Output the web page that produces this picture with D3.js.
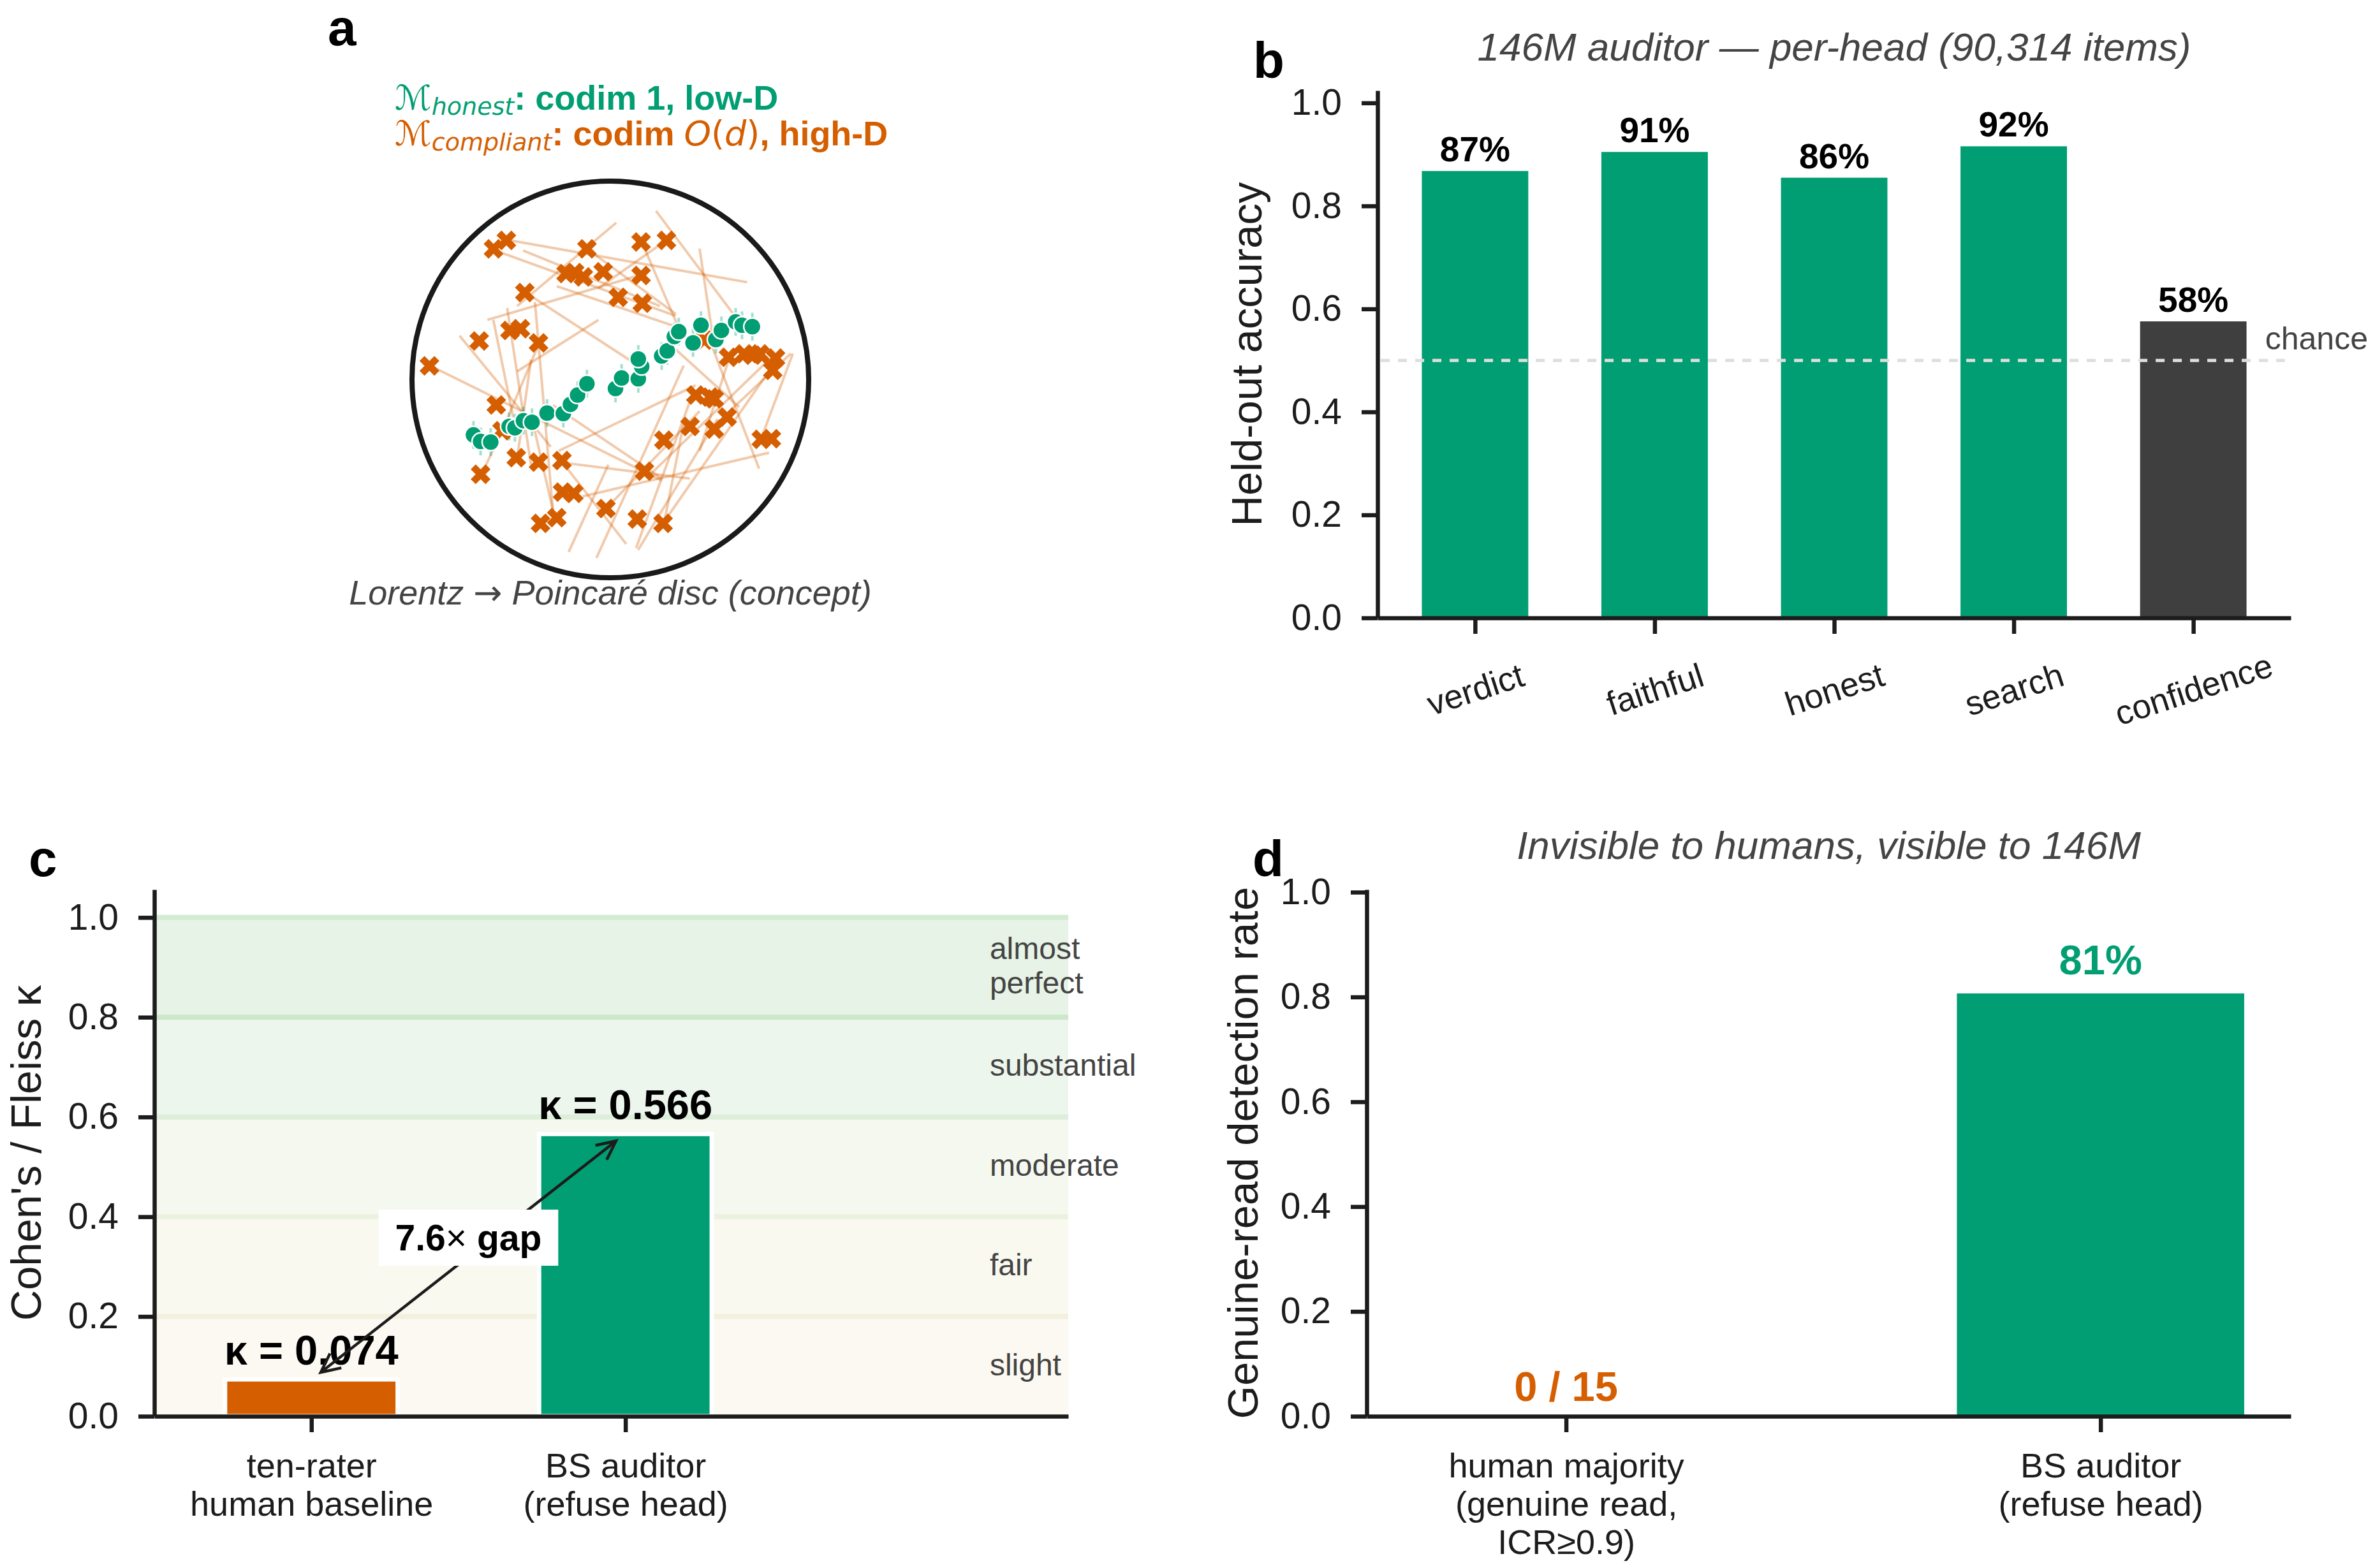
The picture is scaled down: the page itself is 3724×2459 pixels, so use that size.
<!DOCTYPE html>
<html>
<head>
<meta charset="utf-8">
<script src="https://cdn.jsdelivr.net/npm/d3@7"></script>
<style>
body { margin: 0; background: #fff; }
text { font-family: "Liberation Sans", Arial, sans-serif; }
</style>
</head>
<body>
<div id="fig"></div>
<script>
const green = "#029e73", orange = "#d55e00", dark = "#3f3f3f", ink = "#1c1c1c", grey = "#444444";

// ---- panel a : points on the disc (unit-disc coords) ----
const honestPts = [
  [-0.690,-0.280],[-0.654,-0.313],[-0.603,-0.316],[-0.510,-0.237],[-0.481,-0.244],
  [-0.438,-0.208],[-0.395,-0.216],[-0.319,-0.170],[-0.237,-0.172],[-0.201,-0.126],
  [-0.165,-0.079],[-0.118,-0.022],[0.026,-0.046],[0.057,0.007],[0.141,0.003],
  [0.158,0.065],[0.141,0.103],[0.259,0.118],[0.287,0.144],[0.323,0.216],
  [0.345,0.241],[0.417,0.184],[0.457,0.273],[0.532,0.201],[0.560,0.247],
  [0.632,0.290],[0.664,0.273],[0.716,0.266]
];
const compliantPts = [
  [-0.589,0.658],[-0.524,0.701],[-0.118,0.658],[0.155,0.693],[0.283,0.701],
  [-0.223,0.534],[-0.180,0.539],[-0.136,0.517],[-0.036,0.543],[0.155,0.524],
  [-0.431,0.438],[0.040,0.414],[0.161,0.384],[-0.661,0.194],[-0.506,0.247],
  [-0.453,0.256],[-0.362,0.184],[-0.912,0.068],[-0.575,-0.129],[-0.546,-0.259],
  [0.474,0.198],[0.596,0.112],[0.675,0.129],[0.718,0.122],[0.754,0.129],
  [0.833,0.108],[0.819,0.046],[0.431,-0.079],[0.503,-0.089],[0.524,-0.098],
  [0.589,-0.190],[0.402,-0.237],[0.524,-0.251],[0.270,-0.306],[0.761,-0.302],
  [0.812,-0.299],[-0.474,-0.395],[-0.362,-0.417],[-0.244,-0.409],[-0.654,-0.478],
  [0.172,-0.463],[-0.241,-0.568],[-0.184,-0.575],[-0.022,-0.651],[0.136,-0.704],
  [0.266,-0.726],[-0.352,-0.726],[-0.270,-0.697]
];
const compliantSegs = [
  [-0.50,0.70,0.69,0.49],[-0.58,0.65,0.33,0.32],[-0.44,0.65,0.25,0.37],[0.03,0.79,-0.47,0.37],
  [0.23,0.85,0.62,0.33],[0.45,0.66,0.52,0.19],[-0.76,0.22,-0.30,-0.34],[-0.91,0.07,0.26,-0.51],
  [-0.62,0.30,0.13,0.52],[-0.27,0.47,0.32,0.27],[-0.59,0.30,-0.49,-0.19],[-0.52,0.36,-0.40,-0.43],
  [-0.40,0.10,-0.47,-0.40],[-0.38,0.39,-0.29,-0.66],[-0.21,-0.87,-0.01,-0.43],[-0.07,-0.90,0.37,0.07],
  [0.08,-0.83,-0.24,-0.42],[0.13,-0.85,0.42,-0.06],[0.14,-0.86,0.54,-0.20],[0.75,-0.45,0.50,0.20],
  [0.91,0.13,0.57,-0.19],[0.80,-0.37,-0.14,-0.59],[0.82,0.07,0.29,-0.69],[0.19,-0.49,0.79,0.09],
  [-0.47,0.04,-0.06,0.30],[-0.26,-0.36,0.43,-0.03],[-0.29,-0.13,0.26,-0.50],[-0.65,-0.48,-0.55,-0.27],
  [0.27,-0.73,0.37,-0.22],[-0.24,-0.42,0.40,-0.50],[-0.28,-0.70,-0.39,-0.22],[-0.02,-0.65,0.45,-0.16],
  [0.65,-0.14,0.32,0.16],[0.16,0.69,0.34,0.27],[0.28,0.70,-0.06,0.46],[-0.43,0.44,0.14,0.07],
  [-0.12,0.66,0.33,0.33],[0.60,0.11,0.45,-0.36],[-0.36,0.18,-0.55,-0.27],[0.76,-0.30,0.92,0.13]
];

// ---- panel b ----
const heads = ["verdict", "faithful", "honest", "search", "confidence"];
const headAcc = [0.869, 0.906, 0.856, 0.917, 0.577];
const headColor = [green, green, green, green, dark];
const chance = 0.5;

// ---- panel c ----
const raters = [["ten-rater", "human baseline"], ["BS auditor", "(refuse head)"]];
const kappa = [0.074, 0.566];
const kappaColor = [orange, green];
const bandEdges = [0, 0.2, 0.4, 0.6, 0.8, 1.0];
const bandNames = [["slight"], ["fair"], ["moderate"], ["substantial"], ["almost", "perfect"]];
const bandFill = ["#fbf9f1", "#f9f9ef", "#f4f8ef", "#edf6ec", "#e7f3e6"];
const bandLine = ["#f3f0e0", "#ecf2e0", "#ddeeda", "#cde7cb", "#d4ebd3"];

// ---- panel d ----
const detectors = [["human majority", "(genuine read,", "ICR\u22650.9)"], ["BS auditor", "(refuse head)"]];
const detectRate = [0, 0.808];
const humanHits = 0, humanItems = 15;

const yTicks = [0, 0.2, 0.4, 0.6, 0.8, 1.0];

const svg = d3.select("#fig").append("svg")
  .attr("width", 3724).attr("height", 2459)
  .style("background", "#fff");

function styleAxis(ax) {
  ax.attr("font-family", '"Liberation Sans", Arial, sans-serif').attr("font-size", 57);
  ax.select(".domain").attr("stroke", ink).attr("stroke-width", 6.5);
  ax.selectAll(".tick line").attr("stroke", ink).attr("stroke-width", 6.5);
  ax.selectAll(".tick text").attr("fill", ink);
}
function leftAxis(g, y, left) {
  const ax = g.append("g").attr("transform", `translate(${left},0)`)
    .call(d3.axisLeft(y).tickValues(yTicks).tickFormat(d3.format(".1f"))
      .tickSize(25).tickSizeOuter(0).tickPadding(31));
  styleAxis(ax);
  return ax;
}
function bottomAxis(g, x, y0, n) {
  const ax = g.append("g").attr("transform", `translate(0,${y0})`)
    .call(d3.axisBottom(x).tickValues(d3.range(n)).tickFormat("")
      .tickSize(25).tickSizeOuter(0));
  styleAxis(ax);
  return ax;
}
function multiLabels(ax, lines) {
  ax.selectAll(".tick text").remove();
  ax.selectAll(".tick").append("text")
    .attr("text-anchor", "middle").attr("fill", ink).attr("font-size", 54)
    .selectAll("tspan").data(i => lines[i]).join("tspan")
    .attr("x", 0).attr("y", (d, j) => 96 + j * 60).text(d => d);
}
function yLabel(g, txt, x, y) {
  g.append("text").attr("transform", `translate(${x},${y}) rotate(-90)`)
    .attr("text-anchor", "middle").attr("font-size", 67).attr("fill", ink).text(txt);
}
function panelLetter(txt, x, y) {
  svg.append("text").attr("x", x).attr("y", y).attr("font-size", 80)
    .attr("font-weight", "bold").attr("fill", "#000").text(txt);
}

// ================= panel a =================
const gA = svg.append("g");
const xA = d3.scaleLinear().domain([-1, 1]).range([957 - 311, 957 + 311]);
const yA = d3.scaleLinear().domain([-1, 1]).range([595 + 311, 595 - 311]);

const l1 = gA.append("text").attr("x", 619).attr("y", 172).attr("fill", green).attr("font-size", 54);
l1.append("tspan").attr("font-family", "DejaVu Sans").text("\u2133");
l1.append("tspan").attr("font-family", "DejaVu Sans").attr("font-style", "italic")
  .attr("font-size", 38).attr("dy", 8).text("honest");
l1.append("tspan").attr("dy", -8).attr("font-weight", "bold").text(": codim 1, low-D");

const l2 = gA.append("text").attr("x", 619).attr("y", 228).attr("fill", orange).attr("font-size", 54);
l2.append("tspan").attr("font-family", "DejaVu Sans").text("\u2133");
l2.append("tspan").attr("font-family", "DejaVu Sans").attr("font-style", "italic")
  .attr("font-size", 38).attr("dy", 8).text("compliant");
l2.append("tspan").attr("dy", -8).attr("font-weight", "bold").text(": codim ");
l2.append("tspan").attr("font-family", "DejaVu Sans").attr("font-style", "italic").text("O");
l2.append("tspan").attr("font-family", "DejaVu Sans").text("(");
l2.append("tspan").attr("font-family", "DejaVu Sans").attr("font-style", "italic").text("d");
l2.append("tspan").attr("font-family", "DejaVu Sans").text(")");
l2.append("tspan").attr("font-weight", "bold").text(", high-D");

gA.append("g").selectAll("line").data(compliantSegs).join("line")
  .attr("x1", d => xA(d[0])).attr("y1", d => yA(d[1]))
  .attr("x2", d => xA(d[2])).attr("y2", d => yA(d[3]))
  .attr("stroke", orange).attr("stroke-opacity", 0.33).attr("stroke-width", 4);

gA.append("g").selectAll("line").data(honestPts).join("line")
  .attr("x1", d => xA(d[0])).attr("x2", d => xA(d[0]))
  .attr("y1", d => yA(d[1] - 0.07)).attr("y2", d => yA(d[1] + 0.07))
  .attr("stroke", green).attr("stroke-opacity", 0.35).attr("stroke-width", 4);

const xMark = d3.symbol().type(d3.symbolCross).size(600);
gA.append("g").selectAll("path").data(compliantPts).join("path")
  .attr("d", xMark)
  .attr("transform", d => `translate(${xA(d[0])},${yA(d[1])}) rotate(45)`)
  .attr("fill", orange);

gA.append("g").selectAll("circle").data(honestPts).join("circle")
  .attr("cx", d => xA(d[0])).attr("cy", d => yA(d[1])).attr("r", 13.5)
  .attr("fill", green).attr("stroke", "#fff").attr("stroke-width", 2.5);

gA.append("circle").attr("cx", xA(0)).attr("cy", yA(0)).attr("r", xA(1) - xA(0))
  .attr("fill", "none").attr("stroke", "#1a1a1a").attr("stroke-width", 8);

const cap = gA.append("text").attr("x", xA(0)).attr("y", 948).attr("text-anchor", "middle")
  .attr("font-size", 54).attr("font-style", "italic").attr("fill", grey);
cap.append("tspan").text("Lorentz ");
cap.append("tspan").attr("font-family", "DejaVu Sans").attr("font-style", "normal").text("\u2192");
cap.append("tspan").text(" Poincar\u00e9 disc (concept)");

// ================= panel b =================
const gB = svg.append("g");
const xB = d3.scaleLinear().domain([-0.543, 4.543]).range([2160, 3592]);
const yB = d3.scaleLinear().domain([0, 1.024]).range([969, 142]);
const bwB = xB(0.6) - xB(0);

gB.selectAll("rect").data(headAcc).join("rect")
  .attr("x", (d, i) => xB(i) - bwB / 2).attr("width", bwB)
  .attr("y", d => yB(d)).attr("height", d => yB(0) - yB(d))
  .attr("fill", (d, i) => headColor[i]).attr("stroke", "#fff").attr("stroke-width", 2);

gB.append("line")
  .attr("x1", xB(-0.525)).attr("x2", xB(4.51))
  .attr("y1", yB(chance)).attr("y2", yB(chance))
  .attr("stroke", "#dedede").attr("stroke-width", 5).attr("stroke-dasharray", "14,13");
gB.append("text").attr("x", xB(4.40)).attr("y", yB(chance) - 17)
  .attr("font-size", 50).attr("fill", grey).text("chance");

gB.selectAll(".vlab").data(headAcc).join("text").attr("class", "vlab")
  .attr("x", (d, i) => xB(i)).attr("y", d => yB(d) - 14)
  .attr("text-anchor", "middle").attr("font-size", 55).attr("font-weight", "bold")
  .attr("fill", "#000").text(d => d3.format(".0%")(d));

leftAxis(gB, yB, 2160);
const axB = bottomAxis(gB, xB, 969, heads.length);
axB.selectAll(".tick text").remove();
axB.selectAll(".tick").append("text")
  .attr("transform", "translate(0,112) rotate(-18)")
  .attr("text-anchor", "middle").attr("dominant-baseline", "central")
  .attr("font-size", 53).attr("fill", ink).text(i => heads[i]);

yLabel(gB, "Held-out accuracy", 1978, (142 + 969) / 2);
gB.append("text").attr("x", (2160 + 3592) / 2).attr("y", 95).attr("text-anchor", "middle")
  .attr("font-size", 62).attr("font-style", "italic").attr("fill", grey)
  .text("146M auditor \u2014 per-head (90,314 items)");

// ================= panel c =================
const gC = svg.append("g");
const xC = d3.scaleLinear().domain([-0.5, 2.41]).range([242, 1675]);
const yC = d3.scaleLinear().domain([0, 1.056]).range([2221, 1395]);
const bwC = xC(0.55) - xC(0);

const bands = d3.range(bandNames.length);
gC.selectAll(".band").data(bands).join("rect").attr("class", "band")
  .attr("x", xC(-0.5)).attr("width", xC(2.41) - xC(-0.5))
  .attr("y", i => yC(bandEdges[i + 1])).attr("height", i => yC(bandEdges[i]) - yC(bandEdges[i + 1]))
  .attr("fill", i => bandFill[i]);
gC.selectAll(".bline").data(bands).join("line").attr("class", "bline")
  .attr("x1", xC(-0.5)).attr("x2", xC(2.41))
  .attr("y1", i => yC(bandEdges[i + 1])).attr("y2", i => yC(bandEdges[i + 1]))
  .attr("stroke", i => bandLine[i]).attr("stroke-width", 8);
gC.selectAll(".bname").data(bands).join("text").attr("class", "bname")
  .attr("font-size", 48).attr("fill", grey)
  .each(function (i) {
    const yc = yC((bandEdges[i] + bandEdges[i + 1]) / 2);
    const n = bandNames[i].length;
    d3.select(this).selectAll("tspan").data(bandNames[i]).join("tspan")
      .attr("x", xC(2.16)).attr("y", (d, j) => yc + 14 + (j - (n - 1) / 2) * 54).text(d => d);
  });

gC.selectAll(".bar").data(kappa).join("rect").attr("class", "bar")
  .attr("x", (d, i) => xC(i) - bwC / 2).attr("width", bwC)
  .attr("y", d => yC(d)).attr("height", d => yC(0) - yC(d))
  .attr("fill", (d, i) => kappaColor[i]).attr("stroke", "#fff").attr("stroke-width", 7);

gC.selectAll(".klab").data(kappa).join("text").attr("class", "klab")
  .attr("x", (d, i) => xC(i)).attr("y", d => yC(d) - 23)
  .attr("text-anchor", "middle").attr("font-size", 65).attr("font-weight", "bold")
  .attr("fill", "#000").text(d => "\u03ba = " + d3.format(".3f")(d));

// double-headed arrow between the two kappas
const p0 = [xC(0.03), yC(0.088)], p1 = [xC(0.97), yC(0.552)];
const ang = Math.atan2(p1[1] - p0[1], p1[0] - p0[0]);
function head(p, a) {
  const L = 33, s = 0.45;
  return `M${p[0] - L * Math.cos(a - s)},${p[1] - L * Math.sin(a - s)}L${p[0]},${p[1]}` +
         `L${p[0] - L * Math.cos(a + s)},${p[1] - L * Math.sin(a + s)}`;
}
gC.append("path")
  .attr("d", `M${p0[0]},${p0[1]}L${p1[0]},${p1[1]}` + head(p1, ang) + head(p0, ang + Math.PI))
  .attr("fill", "none").attr("stroke", ink).attr("stroke-width", 4.5)
  .attr("stroke-linejoin", "miter");

const gapG = gC.append("g");
const gapT = gapG.append("text").attr("x", xC(0.5)).attr("y", yC(0.358))
  .attr("text-anchor", "middle").attr("dominant-baseline", "central")
  .attr("font-size", 57).attr("font-weight", "bold").attr("fill", "#000");
gapT.append("tspan").text(d3.format(".1f")(kappa[1] / kappa[0]));
gapT.append("tspan").attr("font-weight", "normal").text("\u00d7");
gapT.append("tspan").text(" gap");
const bb = gapT.node().getBBox();
gapG.insert("rect", "text").attr("x", bb.x - 26).attr("y", bb.y - 12)
  .attr("width", bb.width + 52).attr("height", bb.height + 24).attr("fill", "#fff");

leftAxis(gC, yC, 242);
const axC = bottomAxis(gC, xC, 2221, raters.length);
multiLabels(axC, raters);
yLabel(gC, "Cohen's / Fleiss \u03ba", 64, (1395 + 2221) / 2);

// ================= panel d =================
const gD = svg.append("g");
const xD = d3.scaleLinear().domain([-0.373, 1.356]).range([2143, 3592]);
const yD = d3.scaleLinear().domain([0, 1.005]).range([2221, 1395]);
const bwD = xD(0.54) - xD(0);

gD.selectAll("rect").data(detectRate).join("rect")
  .attr("x", (d, i) => xD(i) - bwD / 2).attr("width", bwD)
  .attr("y", d => yD(d)).attr("height", d => yD(0) - yD(d))
  .attr("fill", (d, i) => i === 0 ? orange : green).attr("stroke", "#fff").attr("stroke-width", 2);

gD.selectAll(".dlab").data(detectRate).join("text").attr("class", "dlab")
  .attr("x", (d, i) => xD(i)).attr("y", d => yD(d) - (d > 0 ? 29 : 24))
  .attr("text-anchor", "middle").attr("font-size", 65).attr("font-weight", "bold")
  .attr("fill", (d, i) => i === 0 ? orange : green)
  .text((d, i) => i === 0 ? `${humanHits} / ${humanItems}` : d3.format(".0%")(d));

leftAxis(gD, yD, 2143);
const axD = bottomAxis(gD, xD, 2221, detectors.length);
multiLabels(axD, detectors);
yLabel(gD, "Genuine-read detection rate", 1972, (1395 + 2221) / 2);
gD.append("text").attr("x", (2143 + 3592) / 2).attr("y", 1347).attr("text-anchor", "middle")
  .attr("font-size", 62).attr("font-style", "italic").attr("fill", grey)
  .text("Invisible to humans, visible to 146M");

panelLetter("a", 514, 71);
panelLetter("b", 1965, 122);
panelLetter("c", 45, 1374);
panelLetter("d", 1964, 1374);
</script>
</body>
</html>
